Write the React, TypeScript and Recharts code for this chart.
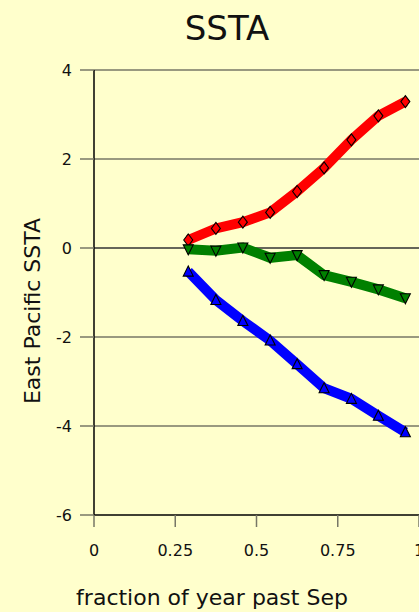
import React from "react";
import { LineChart, Line, XAxis, YAxis, CartesianGrid } from "recharts";

const xValues = [0.29, 0.375, 0.458, 0.542, 0.625, 0.708, 0.792, 0.875, 0.958];
const redSeries = [0.18, 0.44, 0.58, 0.8, 1.27, 1.8, 2.43, 2.97, 3.29];
const greenSeries = [-0.03, -0.06, 0.01, -0.22, -0.16, -0.61, -0.76, -0.93, -1.13];
const blueSeries = [-0.53, -1.17, -1.64, -2.08, -2.61, -3.15, -3.39, -3.77, -4.14];
const xTicks = [0, 0.25, 0.5, 0.75, 1];
const yTicks = [-6, -4, -2, 0, 2, 4];

const data = xValues.map((x, i) => ({
  x,
  red: redSeries[i],
  green: greenSeries[i],
  blue: blueSeries[i],
}));

const FONT = "'DejaVu Sans', Verdana, sans-serif";
const BG = "#FFFFCC";
const RED = "#FF0000";
const GREEN = "#008000";
const BLUE = "#0000FF";

const Diamond = (p: any) => {
  const { cx, cy, index } = p;
  if (cx == null || cy == null) return <g key={`d${index}`} />;
  return (
    <path
      key={`d${index}`}
      d={`M${cx},${cy - 6} L${cx + 4.5},${cy} L${cx},${cy + 6} L${cx - 4.5},${cy} Z`}
      fill={RED}
      stroke="#000"
      strokeWidth={1.1}
    />
  );
};

const DownTri = (p: any) => {
  const { cx, cy, index } = p;
  if (cx == null || cy == null) return <g key={`g${index}`} />;
  return (
    <path
      key={`g${index}`}
      d={`M${cx - 5},${cy - 4.5} L${cx + 5},${cy - 4.5} L${cx},${cy + 5.5} Z`}
      fill={GREEN}
      stroke="#000"
      strokeWidth={1.1}
    />
  );
};

const UpTri = (p: any) => {
  const { cx, cy, index } = p;
  if (cx == null || cy == null) return <g key={`b${index}`} />;
  return (
    <path
      key={`b${index}`}
      d={`M${cx - 5},${cy + 4.5} L${cx + 5},${cy + 4.5} L${cx},${cy - 5.5} Z`}
      fill={BLUE}
      stroke="#000"
      strokeWidth={1.1}
    />
  );
};

export default function App() {
  return (
    <div
      style={{
        position: "absolute",
        left: 0,
        top: 0,
        width: 419,
        height: 612,
        overflow: "hidden",
        background: BG,
      }}
    >
      <LineChart
        width={440}
        height={612}
        data={data}
        margin={{ top: 70, right: 21, bottom: 0, left: 0 }}
      >
        <CartesianGrid
          vertical={false}
          horizontalValues={[-4, -2, 2, 4]}
          stroke="#777766"
          strokeWidth={1.5}
        />
        <CartesianGrid
          vertical={false}
          horizontalValues={[0]}
          stroke="#333333"
          strokeWidth={1.5}
        />
        <XAxis
          dataKey="x"
          type="number"
          domain={[0, 1]}
          ticks={xTicks}
          height={97}
          axisLine={{ stroke: "#000", strokeWidth: 1.5 }}
          tickLine={{ stroke: "#777766", strokeWidth: 1.5 }}
          tickSize={12}
          tickMargin={18}
          tick={{ fill: "#111", fontSize: 16, fontFamily: FONT }}
          interval={0}
          allowDataOverflow
        />
        <YAxis
          type="number"
          domain={[-6, 4]}
          ticks={yTicks}
          width={94}
          axisLine={{ stroke: "#000", strokeWidth: 1.5 }}
          tickLine={{ stroke: "#777766", strokeWidth: 1.5 }}
          tickSize={14}
          tickMargin={8}
          tick={{ fill: "#111", fontSize: 16, fontFamily: FONT }}
          interval={0}
          allowDataOverflow
        />
        <Line
          dataKey="red"
          stroke={RED}
          strokeWidth={10}
          dot={Diamond}
          activeDot={false}
          isAnimationActive={false}
        />
        <Line
          dataKey="green"
          stroke={GREEN}
          strokeWidth={10}
          dot={DownTri}
          activeDot={false}
          isAnimationActive={false}
        />
        <Line
          dataKey="blue"
          stroke={BLUE}
          strokeWidth={10}
          dot={UpTri}
          activeDot={false}
          isAnimationActive={false}
        />
      </LineChart>
      <svg
        width={419}
        height={612}
        style={{ position: "absolute", left: 0, top: 0, pointerEvents: "none" }}
      >
        <text x={227} y={40} textAnchor="middle" fontSize={34} fontFamily={FONT} fill="#111">
          SSTA
        </text>
        <text x={212} y={605} textAnchor="middle" fontSize={22} fontFamily={FONT} fill="#111">
          fraction of year past Sep
        </text>
        <text
          transform="translate(40,311) rotate(-90)"
          textAnchor="middle"
          fontSize={22}
          fontFamily={FONT}
          fill="#111"
        >
          East Pacific SSTA
        </text>
      </svg>
    </div>
  );
}
